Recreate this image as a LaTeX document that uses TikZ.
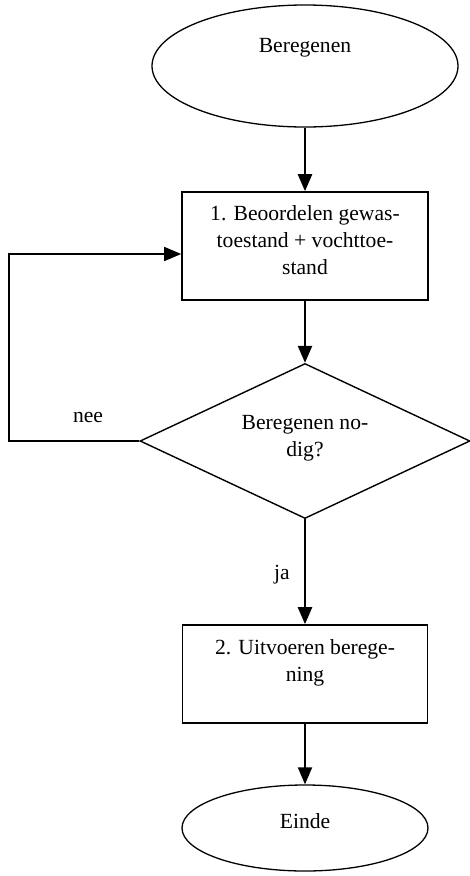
\documentclass[tikz,border=0pt]{standalone}
\usepackage{fontspec}
\setmainfont{Liberation Serif}
\usetikzlibrary{shapes.geometric,arrows.meta}
\begin{document}
\begin{tikzpicture}[x=1pt,y=-1pt,
  every node/.style={font=\fontsize{21.6pt}{27pt}\selectfont, inner sep=0pt},
  terminal/.style={ellipse, draw, line width=1.3pt},
  stepbox/.style={rectangle, draw, line width=1.6pt, align=center},
  decision/.style={diamond, draw, line width=1.4pt, align=center, aspect=2.13},
  tip/.style={-{Triangle[length=17pt,width=14pt]}},
  flow/.style={tip, line width=2.4pt},
  loopline/.style={tip, line width=1.6pt}]
\useasboundingbox (0,0) rectangle (470,876);

% start and end terminals
\node[terminal, minimum width=306pt, minimum height=122pt,
      text height=15pt, text depth=43pt] (start) at (305,66) {Beregenen};
\node[terminal, minimum width=246pt, minimum height=86pt,
      text height=14pt, text depth=14pt] (finish) at (305,828) {Einde};

% process steps (text height measured to the last baseline)
\node[stepbox, minimum width=246pt, minimum height=108pt,
      text height=82pt, text depth=26pt] (assess) at (305,246)
      {1. Beoordelen gewas-\\toestand + vochttoe-\\stand};
\node[stepbox, minimum width=245pt, minimum height=98pt,
      text height=56pt, text depth=42pt] (irrigate) at (305,674)
      {2. Uitvoeren berege-\\ning};

% decision
\node[decision, minimum width=330pt, minimum height=155pt,
      text height=42pt, text depth=12pt] (needed) at (305,441)
      {Beregenen no-\\dig?};

% branch labels
\node (nee) at (88,418) {nee};
\node (ja) at (282,575) {ja};

% connectors
\draw[flow] (start) -- (assess);
\draw[flow] (assess) -- (needed);
\draw[flow] (needed) -- (irrigate);
\draw[flow, line width=2pt] (irrigate) -- (finish);

\coordinate (bend) at (9,441);
\draw[loopline] (needed.west) -- (bend) |- ([yshift=-8pt]assess.west);
\end{tikzpicture}
\end{document}
